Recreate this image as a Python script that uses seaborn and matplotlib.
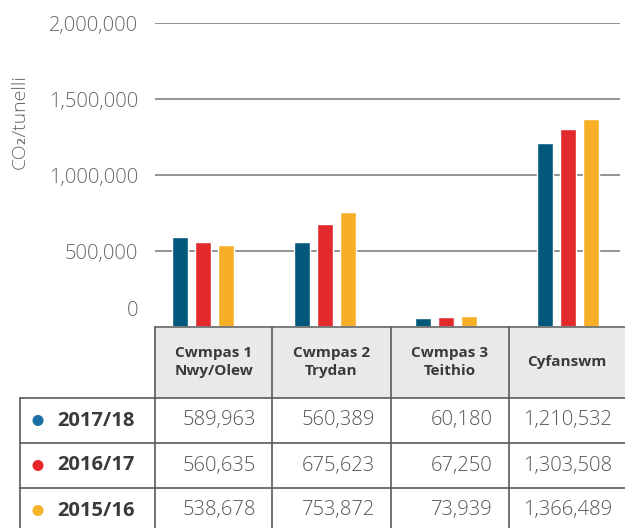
import numpy as np
import pandas as pd
import matplotlib
matplotlib.use("Agg")
import matplotlib.pyplot as plt
from matplotlib.patches import Rectangle, Circle
import seaborn as sns

### Dados
categorias = ["Cwmpas 1\nNwy/Olew", "Cwmpas 2\nTrydan", "Cwmpas 3\nTeithio", "Cyfanswm"]
anos = ["2017/18", "2016/17", "2015/16"]
v_2017 = [589963, 560389, 60180, 1210532]
v_2016 = [560635, 675623, 67250, 1303508]
v_2015 = [538678, 753872, 73939, 1366489]
yticks = [500000, 1000000, 1500000, 2000000]

cores_barra = ["#02587a", "#e2292b", "#f6af26"]
cores_ponto = ["#1a6ea3", "#e8262b", "#f7b22a"]

dados = pd.DataFrame({
    "cat": categorias * 3,
    "ano": [a for a in anos for _ in categorias],
    "valor": v_2017 + v_2016 + v_2015,
})

sns.set_style("white")
plt.rcParams["font.family"] = ["Open Sans", "DejaVu Sans"]
leve = 300

W, H = 625, 528
fig = plt.figure(figsize=(W / 100, H / 100), dpi=100)

### Gráfico de barras
x0, x1, ytop, ybase = 155, 620, 23, 327
ax = fig.add_axes([x0 / W, 1 - ybase / H, (x1 - x0) / W, (ybase - ytop) / H])
sns.barplot(data=dados, x="cat", y="valor", hue="ano", hue_order=anos,
            palette=cores_barra, width=0.567, gap=0.30, saturation=1,
            legend=False, ax=ax)
passo = 121.7
ax.set_xlim(-(203 - x0) / passo, (x1 - 203) / passo)
ax.set_ylim(0, 2000000)
ax.set_yticks(yticks)
ax.set_yticklabels([f"{v:,}" for v in yticks], color="#666666", fontsize=14.5,
                   fontweight=leve)
ax.tick_params(axis="y", length=0, pad=12)
ax.set_xticks([])
ax.set_xlabel("")
ax.set_ylabel("")
for s in ax.spines.values():
    s.set_visible(False)
for v in yticks:
    ax.axhline(v, color="#8a8a8a", lw=1.3, zorder=0)
ax.annotate("0", xy=(0, 0), xycoords=("axes fraction", "data"),
            xytext=(-17, 16), textcoords="offset pixels",
            ha="right", va="center", color="#666666", fontsize=14.5, fontweight=leve)
fig.text(20 / W, 1 - 122 / H, "CO₂/tunelli", rotation=90, ha="center", va="center",
         color="#666666", fontsize=14, fontweight=leve)

### Tabela
tb = fig.add_axes([0, 0, 1, 1])
tb.set_xlim(0, W)
tb.set_ylim(H, 0)
tb.axis("off")
borda = "#5a5a5a"
cols = [155, 272, 391, 509, 640]
linhas = [398, 443, 488, 540]

tb.add_patch(Rectangle((155, 327), W - 155, 398 - 327, facecolor="#e8e9eb",
                       edgecolor="none", zorder=1))
tb.plot([155, W], [327, 327], color="#7a7a7a", lw=1.4, zorder=3)
for c in cols[:-1]:
    tb.plot([c, c], [327, H], color=borda, lw=1.2, zorder=3)
tb.plot([20, 20], [398, H], color=borda, lw=1.2, zorder=3)
for r in linhas[:-1]:
    tb.plot([20, W], [r, r], color=borda, lw=1.2, zorder=3)

for i, cat in enumerate(categorias):
    cx = (cols[i] + min(cols[i + 1], W)) / 2
    tb.text(cx, 362, cat, ha="center", va="center", fontsize=11,
            fontweight="bold", color="#3a3a3a", linespacing=1.3, zorder=4)

series = [v_2017, v_2016, v_2015]
for j, (ano, vals) in enumerate(zip(anos, series)):
    cy = (linhas[j] + min(linhas[j + 1], 533)) / 2
    tb.add_patch(Circle((38, cy), 4.8, color=cores_ponto[j], zorder=4))
    tb.text(57, cy, ano, ha="left", va="center", fontsize=14.5,
            fontweight="bold", color="#3a3a3a", zorder=4)
    for i, v in enumerate(vals):
        right = [256, 375, 493, 612][i]
        tb.text(right, cy, f"{v:,}", ha="right", va="center", fontsize=14.5,
                color="#555555", fontweight=leve, zorder=4)

fig.savefig("out.png", dpi=100)
